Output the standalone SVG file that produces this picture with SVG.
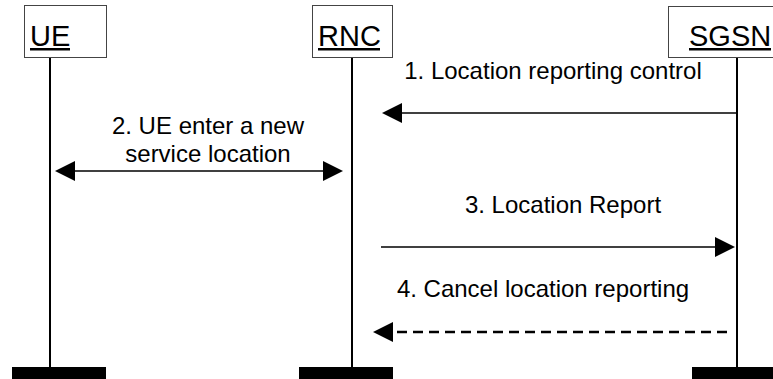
<svg xmlns="http://www.w3.org/2000/svg" width="773" height="379" viewBox="0 0 773 379">
<style>
.box{fill:#fff;stroke:#444;stroke-width:1}
.hdr{font-family:"Liberation Sans",Arial,sans-serif;font-size:29px;fill:#000}
.ul{fill:#000}
.life{stroke:#000;stroke-width:2}
.bar{fill:#000}
.lbl{font-family:"Liberation Sans",Arial,sans-serif;font-size:24px;fill:#000;text-anchor:middle}
.msg{stroke:#000;stroke-width:1.7;fill:none}
.dash{stroke:#000;stroke-width:2.7;fill:none;stroke-dasharray:10 6}
</style>
<defs>
<marker id="ah" markerUnits="userSpaceOnUse" markerWidth="20" markerHeight="20" refX="0" refY="10" orient="auto-start-reverse" viewBox="0 0 20 20">
<path d="M0,0 L20,10 L0,20 z" fill="#000"/>
</marker>
</defs>
<g id="UE">
<rect class="box" x="24.5" y="5.5" width="82" height="52"/>
<text class="hdr" x="30" y="46">UE</text>
<rect class="ul" x="30" y="48" width="40" height="2.5"/>
<line class="life" x1="50" y1="58" x2="50" y2="367"/>
<rect class="bar" x="12" y="367" width="94" height="12"/>
</g>
<g id="RNC">
<rect class="box" x="312.5" y="5.5" width="80" height="52"/>
<text class="hdr" x="318" y="46">RNC</text>
<rect class="ul" x="318" y="48" width="62" height="2.5"/>
<line class="life" x1="352" y1="58" x2="352" y2="367"/>
<rect class="bar" x="299" y="367" width="94" height="12"/>
</g>
<g id="SGSN">
<rect class="box" x="668.5" y="6.5" width="110" height="51"/>
<text class="hdr" x="689" y="46">SGSN</text>
<rect class="ul" x="689" y="48" width="82" height="2.5"/>
<line class="life" x1="737" y1="58" x2="737" y2="367"/>
<rect class="bar" x="692" y="367" width="81" height="12"/>
</g>
<g id="connectors">
<line class="msg" x1="737" y1="113" x2="402" y2="113" marker-end="url(#ah)"/>
<line class="msg" x1="75" y1="171" x2="323" y2="171" marker-start="url(#ah)" marker-end="url(#ah)"/>
<line class="msg" x1="381" y1="247" x2="715" y2="247" stroke-width="1.3" marker-end="url(#ah)"/>
<line class="dash" x1="727" y1="332" x2="393" y2="332" marker-end="url(#ah)"/>
</g>
<g id="labels">
<text class="lbl" x="553" y="79">1. Location reporting control</text>
<text class="lbl" x="208" y="134">2. UE enter a new</text>
<text class="lbl" x="208" y="162">service location</text>
<text class="lbl" x="563" y="213">3. Location Report</text>
<text class="lbl" x="543" y="297">4. Cancel location reporting</text>
</g>
</svg>
